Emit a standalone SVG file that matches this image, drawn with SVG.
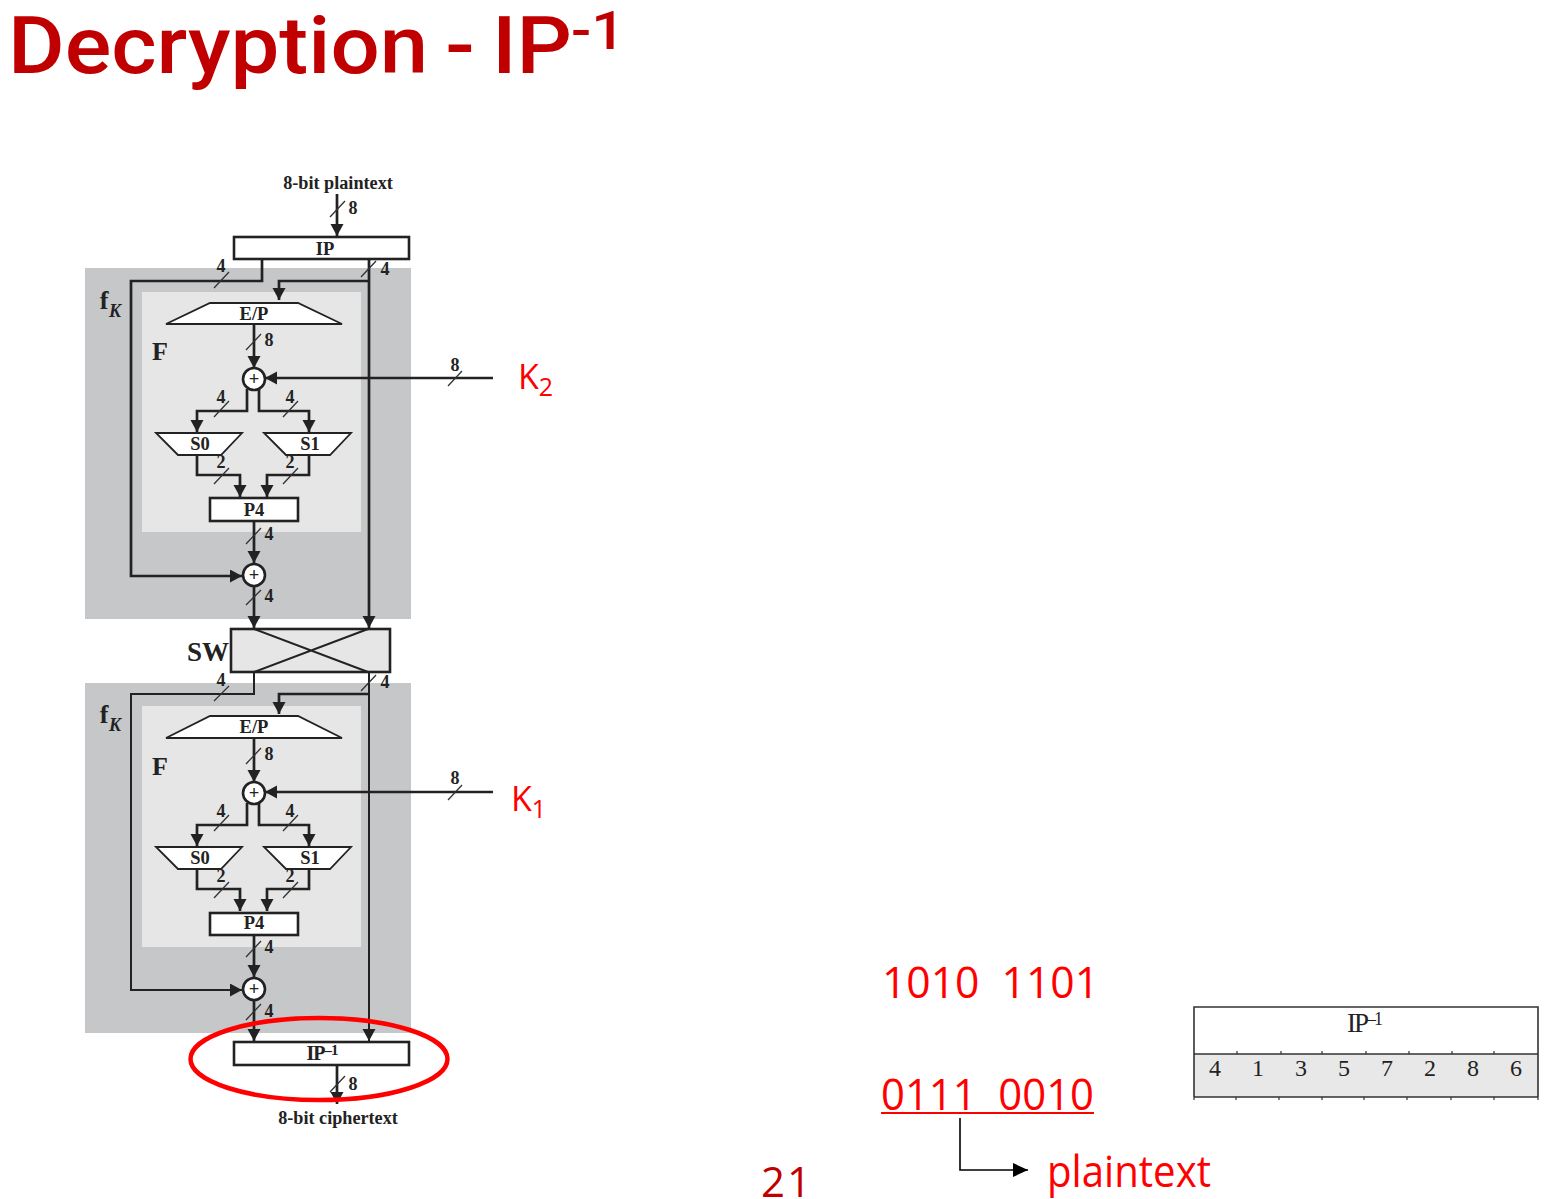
<svg xmlns="http://www.w3.org/2000/svg" width="1545" height="1199" viewBox="0 0 1545 1199">
<style>
text{font-family:"Liberation Serif","Times New Roman",serif;fill:#222;font-weight:bold;text-anchor:middle}
.o{fill:#c6c7c9}.i{fill:#e6e6e6}
.b{fill:#fff;stroke:#222;stroke-width:2.6}
.z{fill:#fff;stroke:#222;stroke-width:1.8}
.x{fill:#e6e6e6;stroke:#222;stroke-width:2.6}
.c{fill:none;stroke:#222;stroke-width:2.7}
.c2{fill:none;stroke:#222;stroke-width:2}
.s{fill:none;stroke:#333;stroke-width:1.3}
.l{font-size:18px}.bl{font-size:18.2px}.t{font-size:18.5px}.big{font-size:26px}
.r{font-family:"Open Sans","Noto Sans",sans-serif;fill:#f00;font-weight:normal;text-anchor:start}
.tt{font-family:Roboto,"Open Sans",sans-serif;fill:#c00000;font-weight:500;text-anchor:start}
.tb{font-weight:normal;font-size:24px}
</style>
<defs>
<marker id="a" markerUnits="userSpaceOnUse" markerWidth="14" markerHeight="14" refX="12" refY="6.5" orient="auto"><path d="M0 0L12 6.500L0 13Z" fill="#222"/></marker>
<marker id="ar" markerUnits="userSpaceOnUse" markerWidth="18" markerHeight="16" refX="15" refY="7" orient="auto"><path d="M0 0L15 7L0 14Z" fill="#000"/></marker>
</defs>
<g id="title">
<text x="8" y="73" class="tt" font-size="80" word-spacing="-4" textLength="564" lengthAdjust="spacingAndGlyphs">Decryption - IP</text>
<text x="571" y="49" class="tt" font-size="53" textLength="54" lengthAdjust="spacingAndGlyphs">-1</text>
</g>

<g id="fk1-bg"><rect class="o" x="85" y="268" width="326" height="351"/><rect class="i" x="142" y="292" width="219" height="240"/></g>
<g id="fk2-bg"><rect class="o" x="85" y="683" width="326" height="350"/><rect class="i" x="142" y="706" width="219" height="241"/></g>

<g id="connectors">
<path class="c" marker-end="url(#a)" d="M337 194V236"/>
<path class="c" marker-end="url(#a)" d="M262 259V281H131V576H242"/>
<path class="c" marker-end="url(#a)" d="M369 259V628"/>
<path class="c" marker-end="url(#a)" d="M369 281H279V300"/>
<path class="c" marker-end="url(#a)" d="M254 324V368"/>
<path class="c" marker-end="url(#a)" d="M493 378H265"/>
<path class="c" marker-end="url(#a)" d="M247 389V411H197V432"/>
<path class="c" marker-end="url(#a)" d="M259 389V411H309V432"/>
<path class="c" marker-end="url(#a)" d="M197 455V475H240V497"/>
<path class="c" marker-end="url(#a)" d="M309 455V475H267V497"/>
<path class="c" marker-end="url(#a)" d="M254 521V563"/>
<path class="c" marker-end="url(#a)" d="M254 586V628"/>
<path class="c2" marker-end="url(#a)" d="M254 672V694H131V990H242"/>
<path class="c2" marker-end="url(#a)" d="M369 672V1041"/>
<path class="c" marker-end="url(#a)" d="M369 694H279V714"/>
<path class="c" marker-end="url(#a)" d="M254 738V782"/>
<path class="c" marker-end="url(#a)" d="M493 792H265"/>
<path class="c" marker-end="url(#a)" d="M247 803V825H197V846"/>
<path class="c" marker-end="url(#a)" d="M259 803V825H309V846"/>
<path class="c" marker-end="url(#a)" d="M197 869V889H240V911"/>
<path class="c" marker-end="url(#a)" d="M309 869V889H267V911"/>
<path class="c" marker-end="url(#a)" d="M254 935V977"/>
<path class="c" marker-end="url(#a)" d="M254 1000V1041"/>
<path class="c" marker-end="url(#a)" d="M337 1065V1104"/>
<path class="s" d="M330 217L345 201M214 288L229 272M361 277L376 261M246 350L261 334M214 417L229 401M283 417L298 401M214 484L229 468M283 484L298 468M246 544L261 528M246 605L261 590M448 386L462 371M214 701L229 686M361 691L376 675M246 764L261 748M448 800L462 785M214 831L229 815M283 831L298 815M214 898L229 882M283 898L298 882M246 957L261 941M246 1020L261 1004M330 1092L345 1076"/>
<g class="l">
<text x="353" y="214">8</text><text x="221" y="272">4</text><text x="385" y="275">4</text><text x="269" y="346">8</text><text x="455" y="371">8</text><text x="221" y="403">4</text><text x="290" y="403">4</text><text x="221" y="468">2</text><text x="290" y="468">2</text><text x="269" y="540">4</text><text x="269" y="602">4</text>
<text x="221" y="686">4</text><text x="385" y="688">4</text><text x="269" y="760">8</text><text x="455" y="784">8</text><text x="221" y="817">4</text><text x="290" y="817">4</text><text x="221" y="882">2</text><text x="290" y="882">2</text><text x="269" y="953">4</text><text x="269" y="1017">4</text><text x="353" y="1090">8</text>
</g>
<path d="M960 1118V1170H1028" fill="none" stroke="#000" stroke-width="1.600" marker-end="url(#ar)"/>
</g>

<g id="plaintext-label"><text class="bl" x="338" y="189">8-bit plaintext</text></g>
<g id="ip"><rect class="b" x="234" y="237" width="175" height="22"/><text class="t" x="325" y="255">IP</text></g>
<g id="fk1-label"><text class="big" x="104" y="309">f</text><text x="115" y="317" font-size="18" font-style="italic">K</text></g>
<g id="f1-label"><text class="big" x="160" y="360">F</text></g>
<g id="ep1"><path class="z" d="M166 324L210 303H298L342 324Z"/><text class="t" x="254" y="320">E/P</text></g>
<g id="xor1"><circle class="b" cx="254" cy="379" r="11"/><text class="t" x="254" y="385">+</text></g>
<g id="s0-1"><path class="z" d="M156 433H242L221 455H178Z"/><text class="t" x="200" y="450">S0</text></g>
<g id="s1-1"><path class="z" d="M264 433H351L330 455H286Z"/><text class="t" x="310" y="450">S1</text></g>
<g id="p4-1"><rect class="b" x="210" y="498" width="88" height="23"/><text class="t" x="254" y="516">P4</text></g>
<g id="xor2"><circle class="b" cx="254" cy="575" r="11"/><text class="t" x="254" y="581">+</text></g>
<g id="sw"><rect class="x" x="231" y="629" width="159" height="43"/><path class="c2" d="M254 629L368 672M368 629L254 672"/><text x="208" y="661" font-size="27">SW</text></g>
<g id="fk2-label"><text class="big" x="104" y="723">f</text><text x="115" y="731" font-size="18" font-style="italic">K</text></g>
<g id="f2-label"><text class="big" x="160" y="775">F</text></g>
<g id="ep2"><path class="z" d="M166 738L210 716H298L342 738Z"/><text class="t" x="254" y="733">E/P</text></g>
<g id="xor3"><circle class="b" cx="254" cy="793" r="11"/><text class="t" x="254" y="799">+</text></g>
<g id="s0-2"><path class="z" d="M156 847H242L221 869H178Z"/><text class="t" x="200" y="864">S0</text></g>
<g id="s1-2"><path class="z" d="M264 847H351L330 869H286Z"/><text class="t" x="310" y="864">S1</text></g>
<g id="p4-2"><rect class="b" x="210" y="913" width="88" height="22"/><text class="t" x="254" y="929">P4</text></g>
<g id="xor4"><circle class="b" cx="254" cy="989" r="11"/><text class="t" x="254" y="995">+</text></g>
<g id="ipinv"><rect class="b" x="234" y="1042" width="175" height="23"/><text x="322" y="1060" font-size="20" letter-spacing="-1">IP<tspan font-size="15" dy="-5">–1</tspan></text></g>
<g id="ciphertext-label"><text class="bl" x="338" y="1124">8-bit ciphertext</text></g>
<g id="highlight"><ellipse cx="319" cy="1059" rx="128.500" ry="41" fill="none" stroke="#f00" stroke-width="4.500"/></g>

<g id="k2"><text class="r" x="518" y="389" font-size="34">K<tspan font-size="25" dy="7">2</tspan></text></g>
<g id="k1"><text class="r" x="511" y="811" font-size="34">K<tspan font-size="25" dy="7">1</tspan></text></g>

<g id="table">
<rect x="1194" y="1007" width="344" height="47" fill="#fff"/><rect x="1194" y="1054" width="344" height="43" fill="#e8e8e8"/>
<path d="M1194 1097V1007H1538V1097M1194 1054H1538M1194 1097H1538" fill="none" stroke="#333" stroke-width="1.600"/>
<path d="M1237 1051V1054M1281 1051V1054M1322 1051V1054M1366 1051V1054M1409 1051V1054M1452 1051V1054M1494 1051V1054M1236 1097V1100M1279 1097V1100M1322 1097V1100M1364 1097V1100M1407 1097V1100M1451 1097V1100M1494 1097V1100M1194 1097V1100M1538 1097V1100" stroke="#333" stroke-width="1.200"/>
<text class="tb" x="1364" y="1032" style="font-size:27px" letter-spacing="-2">IP<tspan font-size="18" dy="-7">–1</tspan></text>
<text class="tb" x="1215" y="1076">4</text><text class="tb" x="1258" y="1076">1</text><text class="tb" x="1301" y="1076">3</text><text class="tb" x="1344" y="1076">5</text><text class="tb" x="1387" y="1076">7</text><text class="tb" x="1430" y="1076">2</text><text class="tb" x="1473" y="1076">8</text><text class="tb" x="1516" y="1076">6</text>
</g>

<g id="notes">
<text class="r" x="882" y="998" font-size="43" xml:space="preserve" textLength="217" lengthAdjust="spacingAndGlyphs">1010  1101</text>
<text class="r" x="881" y="1110" font-size="43" xml:space="preserve" textLength="213" lengthAdjust="spacingAndGlyphs">0111  0010</text>
<path d="M881 1113H1094" stroke="#f00" stroke-width="2"/>
<text class="r" x="1047" y="1187" font-size="43" textLength="164" lengthAdjust="spacingAndGlyphs">plaintext</text>
<text class="r" x="761" y="1197" font-size="42" style="fill:#c00000" letter-spacing="2">21</text>
</g>
</svg>
